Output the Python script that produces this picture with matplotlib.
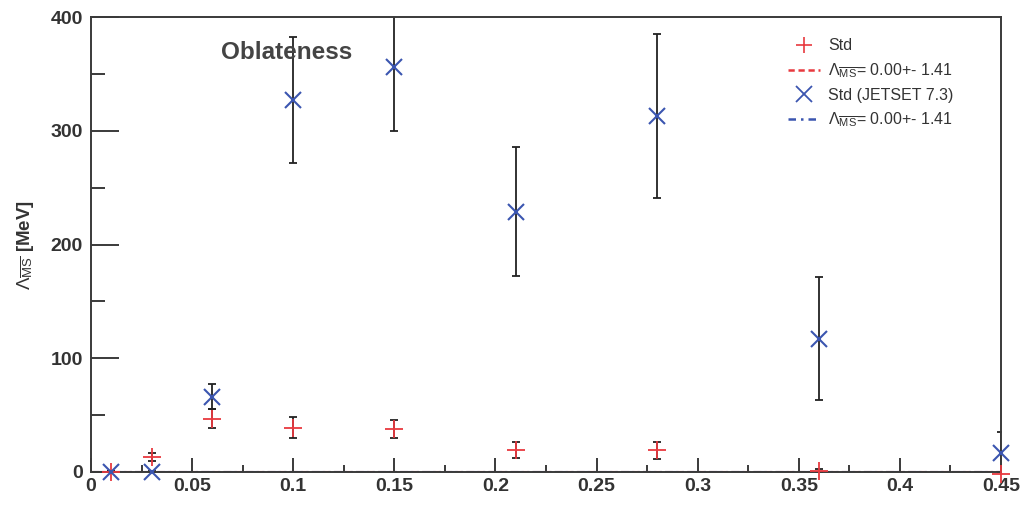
import numpy as np
import matplotlib
matplotlib.use("Agg")
import matplotlib.pyplot as plt
from matplotlib.lines import Line2D
from matplotlib.ticker import MultipleLocator

plt.rcParams['font.family'] = ['Liberation Sans', 'DejaVu Sans']
plt.rcParams['mathtext.fontset'] = 'custom'
plt.rcParams['mathtext.rm'] = 'Liberation Sans'
plt.rcParams['mathtext.it'] = 'Liberation Sans'

# cut values and fitted Lambda_MS for the two samples
cut = [0.01, 0.03, 0.06, 0.10, 0.15, 0.21, 0.28, 0.36, 0.45]
std_val = [0.0, 13.0, 47.0, 39.0, 38.0, 19.0, 19.0, 1.0, -2.0]
std_err = [0.5, 3.5, 8.0, 9.5, 8.0, 7.0, 7.5, 2.0, 1.0]
jet_val = [0.0, 0.0, 66.0, 327.0, 356.0, 229.0, 313.0, 117.0, 17.0]
jet_err = [0.5, 0.5, 11.0, 55.0, 56.0, 57.0, 72.0, 54.0, 18.0]

fit_label = r'$\Lambda_{\overline{MS}}$= 0.00+- 1.41'
fit_std = 0.00
fit_jet = 0.00

xticks = [0, 0.05, 0.1, 0.15, 0.2, 0.25, 0.3, 0.35, 0.4, 0.45]
xticklabels = ['0', '0.05', '0.1', '0.15', '0.2', '0.25', '0.3', '0.35', '0.4', '0.45']
yticks = [0, 100, 200, 300, 400]

fig = plt.figure(figsize=(10.25, 5.08), dpi=100)
ax = fig.add_axes([91/1025, 36/508, 910/1025, 455/508])

axis_col = '#3a3a3a'
ax.errorbar(cut, std_val, yerr=std_err, fmt='none', ecolor='#222222',
            elinewidth=1.3, capsize=3, capthick=1.3, zorder=2)
ax.errorbar(cut, jet_val, yerr=jet_err, fmt='none', ecolor='#222222',
            elinewidth=1.3, capsize=3, capthick=1.3, zorder=2)
ax.plot(cut, std_val, linestyle='none', marker='+', markersize=13,
        markeredgewidth=1.3, color='#e8393f', zorder=3, clip_on=False)
ax.plot(cut, jet_val, linestyle='none', marker='x', markersize=12,
        markeredgewidth=1.5, color='#3b55b0', zorder=3, clip_on=False)

# fitted constants
ax.axhline(fit_std, color='#e8393f', linestyle='--', linewidth=1.5, zorder=1)
ax.axhline(fit_jet, color='#3b55b0', linestyle='-.', linewidth=1.5, zorder=1)

ax.set_xlim(0, 0.45)
ax.set_ylim(0, 400)
ax.set_xticks(xticks)
ax.set_xticklabels(xticklabels)
ax.set_yticks(yticks)
ax.xaxis.set_minor_locator(MultipleLocator(0.025))
ax.yaxis.set_minor_locator(MultipleLocator(50))
ax.tick_params(axis='both', which='both', direction='in', colors=axis_col,
               width=1.4, top=False, right=False, labelcolor='#333333')
ax.tick_params(axis='y', which='major', length=20, pad=6)
ax.tick_params(axis='y', which='minor', length=10)
ax.tick_params(axis='x', which='major', length=10, pad=4)
ax.tick_params(axis='x', which='minor', length=5)
for lab in ax.get_xticklabels() + ax.get_yticklabels():
    lab.set_fontsize(14)
    lab.set_fontweight('bold')
for sp in ax.spines.values():
    sp.set_color(axis_col)
    sp.set_linewidth(1.4)

ax.set_ylabel(r'$\Lambda_{\overline{MS}}$ [MeV]', fontsize=13.5, fontweight='bold',
              color='#333333', labelpad=10)

ax.text(0.0965, 369, 'Oblateness', ha='center', va='center', fontsize=17.5,
        fontweight='bold', color='#444444')

handles = [
    Line2D([], [], linestyle='none', marker='+', markersize=12,
           markeredgewidth=1.2, color='#e8393f'),
    Line2D([], [], linestyle='--', linewidth=1.8, color='#e8393f', dashes=(2.5, 1.5)),
    Line2D([], [], linestyle='none', marker='x', markersize=11,
           markeredgewidth=1.3, color='#3b55b0'),
    Line2D([], [], linestyle='-.', linewidth=1.8, color='#3b55b0', dashes=(3, 2, 1, 2)),
]
labels = ['Std', fit_label, 'Std (JETSET 7.3)', fit_label]
leg = ax.legend(handles, labels, loc='upper left', bbox_to_anchor=(0.75, 0.985),
                frameon=False, fontsize=11.5, handlelength=2.0,
                labelspacing=0.5, handletextpad=0.5)
for t in leg.get_texts():
    t.set_color('#333333')

fig.savefig('out.png', dpi=100)
